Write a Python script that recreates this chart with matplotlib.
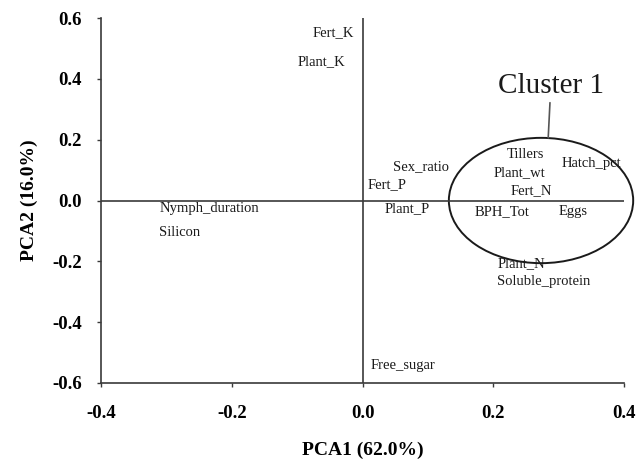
import matplotlib
matplotlib.use("Agg")
import matplotlib.pyplot as plt
from matplotlib.patches import Ellipse

# Variable loadings (label anchor positions, PCA1 / PCA2)
variables = ["Fert_K", "Plant_K", "Sex_ratio", "Fert_P", "Plant_P", "Tillers",
             "Plant_wt", "Fert_N", "Hatch_pct", "BPH_Tot", "Eggs",
             "Nymph_duration", "Silicon", "Plant_N", "Soluble_protein", "Free_sugar"]
pca1 = [-0.077, -0.100, 0.047, 0.007, 0.034, 0.221,
        0.201, 0.227, 0.305, 0.172, 0.300,
        -0.311, -0.311, 0.206, 0.206, 0.0125]
pca2 = [0.551, 0.457, 0.110, 0.051, -0.028, 0.150,
        0.091, 0.032, 0.122, -0.037, -0.037,
        -0.027, -0.106, -0.209, -0.267, -0.541]

x_ticks = [-0.4, -0.2, 0.0, 0.2, 0.4]
y_ticks = [-0.6, -0.4, -0.2, 0.0, 0.2, 0.4, 0.6]
x_label = "PCA1 (62.0%)"
y_label = "PCA2 (16.0%)"
cluster_label = "Cluster 1"

plt.rcParams['font.family'] = ['Liberation Serif', 'DejaVu Serif']

fig = plt.figure(figsize=(6.44, 4.62), dpi=100)
ax = fig.add_axes([0.157, 0.171, 0.812, 0.790])
line_c = "#3a3a3a"

ax.set_xlim(-0.4, 0.4)
ax.set_ylim(-0.6, 0.6)
ax.set_xticks(x_ticks)
ax.set_yticks(y_ticks)
ax.set_xticklabels([f"{v:.1f}" for v in x_ticks], fontsize=13.5, fontweight="bold")
ax.set_yticklabels([f"{v:.1f}" for v in y_ticks], fontsize=13.5, fontweight="bold")
ax.tick_params(axis="x", direction="out", length=3, width=1, color=line_c, pad=13)
ax.tick_params(axis="y", direction="out", length=3, width=1, color=line_c, pad=11)

for s in ["top", "right"]:
    ax.spines[s].set_visible(False)
for s in ["left", "bottom"]:
    ax.spines[s].set_color(line_c)
    ax.spines[s].set_linewidth(1.2)

ax.axhline(0, color=line_c, lw=1.2)
ax.axvline(0, color=line_c, lw=1.2)

for lab, xv, yv in zip(variables, pca1, pca2):
    ax.text(xv, yv, lab, fontsize=10.5, ha="left", va="center", color="#1a1a1a")

ell = Ellipse((0.273, 0.0), 0.282, 0.412, fill=False, edgecolor="#1a1a1a",
              lw=1.4, clip_on=False)
ax.add_patch(ell)
ax.annotate(cluster_label, xy=(0.284, 0.206), xytext=(0.288, 0.378),
            fontsize=21, ha="center", va="center", color="#1a1a1a",
            arrowprops=dict(arrowstyle="-", color="#555555", lw=1.2,
                            shrinkA=1, shrinkB=0))

ax.set_xlabel(x_label, fontsize=14, fontweight="bold", labelpad=14)
ax.set_ylabel(y_label, fontsize=14, fontweight="bold", labelpad=10)

fig.savefig("out.png", dpi=100)
